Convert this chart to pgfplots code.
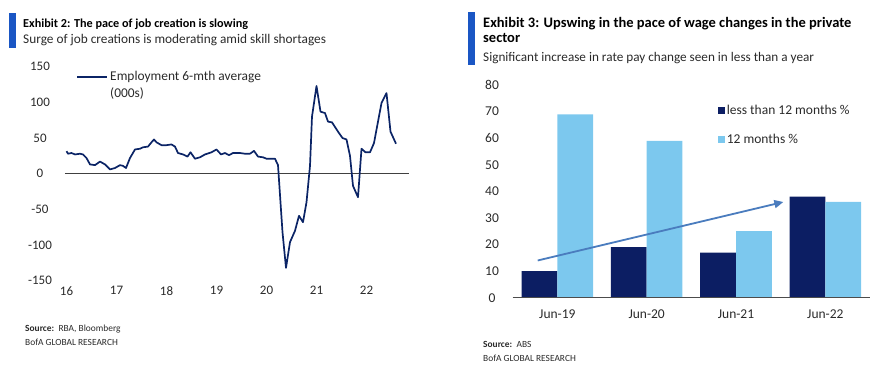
\documentclass[border=0pt]{standalone}
\usepackage{pgfplots}
\pgfplotsset{compat=1.18}
\usepackage{fontspec}
\setmainfont{Carlito}
\usetikzlibrary{arrows.meta}
\definecolor{navy}{HTML}{0B2466}
\definecolor{darkbar}{HTML}{0C1E63}
\definecolor{lightbar}{HTML}{7CC8EE}
\definecolor{titlebar}{HTML}{1A56C4}
\definecolor{arrowblue}{HTML}{4A7CBE}
\definecolor{txt}{HTML}{2A2A2A}
\begin{document}
\begin{tikzpicture}
\useasboundingbox (0pt,0pt) rectangle (875pt,-377pt);
% ---- left titles
\fill[titlebar] (9pt,-12.7pt) rectangle (16pt,-47.7pt);
\node[anchor=base west, inner sep=0pt, font=\fontsize{12.2}{14}\selectfont\bfseries] at (23pt,-27.5pt) {Exhibit 2: The pace of job creation is slowing};
\node[anchor=base west, inner sep=0pt, font=\fontsize{13.3}{15}\selectfont, text=txt] at (23pt,-43.5pt) {Surge of job creations is moderating amid skill shortages};
\node[anchor=base west, inner sep=0pt, font=\fontsize{9.4}{11}\selectfont, text=txt] at (25pt,-331.5pt) {\textbf{Source:}\, RBA, Bloomberg};
\node[anchor=base west, inner sep=0pt, font=\fontsize{9.4}{11}\selectfont, text=txt] at (25pt,-345.5pt) {BofA GLOBAL RESEARCH};
% ---- right titles
\fill[titlebar] (468pt,-12pt) rectangle (475pt,-65pt);
\node[anchor=base west, inner sep=0pt, font=\fontsize{14.5}{16}\selectfont\bfseries] at (483pt,-28pt) {Exhibit 3: Upswing in the pace of wage changes in the private};
\node[anchor=base west, inner sep=0pt, font=\fontsize{14.5}{16}\selectfont\bfseries] at (483pt,-43pt) {sector};
\node[anchor=base west, inner sep=0pt, font=\fontsize{13.2}{15}\selectfont, text=txt] at (483pt,-61.5pt) {Significant increase in rate pay change seen in less than a year};
\node[anchor=base west, inner sep=0pt, font=\fontsize{9.4}{11}\selectfont, text=txt] at (483pt,-347pt) {\textbf{Source:}\, ABS};
\node[anchor=base west, inner sep=0pt, font=\fontsize{9.4}{11}\selectfont, text=txt] at (483pt,-361pt) {BofA GLOBAL RESEARCH};

% ---- left axis
\begin{axis}[
  at={(65pt,-280.7pt)}, anchor=south west,
  scale only axis, width=344pt, height=214pt,
  xmin=15.97, xmax=22.85, ymin=-150, ymax=150,
  xtick={16,17,18,19,20,21,22},
  xticklabels={16,17,18,19,20,21,22},
  ytick={-150,-100,-50,0,50,100,150},
  axis line style={draw=none}, tick style={draw=none},
  /pgf/number format/assume math mode=true,
  ticklabel style={font=\fontsize{13}{15}\selectfont, text=txt},
  yticklabel style={anchor=center, xshift=-25pt},
  xticklabel style={anchor=center, yshift=-10pt},
  clip=false,
  legend style={at={(0.03,0.997)}, anchor=north west, draw=none, fill=none,
    font=\fontsize{13.4}{17}\selectfont, cells={align=left}, text=txt,
    inner xsep=1pt},
  legend cell align=left,
  legend image code/.code={\draw[#1] (0pt,8.5pt) -- (30pt,8.5pt);},
]
\addplot[black!75, line width=0.8pt, forget plot] coordinates {(15.97,0) (22.85,0)};
\addplot[navy, line width=1.7pt, line join=round] coordinates {
(16.0,31.6)(16.03,28)(16.10,29)(16.17,27)(16.27,28)(16.33,27)(16.40,22)(16.47,13)(16.57,12)(16.67,17)(16.77,13)(16.87,6)(16.97,8)(17.07,12)(17.13,11)(17.19,8)(17.27,22)(17.37,34)(17.47,35)(17.53,37)(17.63,38)(17.70,44)(17.75,48)(17.80,44)(17.90,40)(18.00,40)(18.10,41)(18.17,38)(18.23,29)(18.33,27)(18.42,24)(18.48,30)(18.57,21)(18.67,23)(18.77,27)(18.90,30)(19.00,34)(19.09,27)(19.17,29)(19.25,26)(19.33,29)(19.47,29)(19.57,28)(19.67,28)(19.75,32)(19.83,24)(19.93,23)(20.00,21)(20.17,21)(20.23,12)(20.32,-82)(20.39,-132)(20.47,-96)(20.57,-80)(20.65,-59)(20.73,-68)(20.80,-40)(20.87,11)(20.91,80)(21.00,123)(21.08,87)(21.17,85)(21.23,73)(21.31,72)(21.43,59)(21.52,50)(21.60,48)(21.67,25)(21.73,-17)(21.83,-33)(21.90,35)(21.98,30)(22.07,30)(22.15,43)(22.23,73)(22.30,99)(22.40,113)(22.48,59)(22.59,42)};
\addlegendentry{Employment 6-mth average\\(000s)}
\end{axis}

% ---- right axis
\begin{axis}[
  at={(512.7pt,-297.7pt)}, anchor=south west,
  scale only axis, width=357.3pt, height=212.7pt,
  xmin=-0.5, xmax=3.5, ymin=0, ymax=80,
  ybar, bar width=35.8pt,
  xtick={0,1,2,3}, xticklabels={Jun-19,Jun-20,Jun-21,Jun-22},
  ytick={0,10,20,30,40,50,60,70,80},
  axis line style={draw=none}, tick style={draw=none},
  /pgf/number format/assume math mode=true,
  ticklabel style={font=\fontsize{13.5}{15}\selectfont, text=txt},
  yticklabel style={anchor=center, xshift=-20.7pt},
  xticklabel style={anchor=center, yshift=-12pt},
  clip=false,
  after end axis/.code={\draw[black!70, line width=0.8pt] (rel axis cs:0,0) -- (rel axis cs:1,0);},
  legend style={at={(0.565,0.925)}, anchor=north west, draw=none, fill=none,
    font=\fontsize{13.5}{15}\selectfont, text=txt, row sep=14pt},
  legend cell align=left,
]
\addplot[fill=darkbar, draw=none, bar shift=-17.9pt,
  legend image code/.code={\fill[darkbar] (0pt,-3.5pt) rectangle (7pt,3.5pt);}]
  coordinates {(0,10) (1,19) (2,17) (3,38)};
\addlegendentry{less than 12 months \%}
\addplot[fill=lightbar, draw=none, bar shift=17.9pt,
  legend image code/.code={\fill[lightbar] (0pt,-3.5pt) rectangle (7pt,3.5pt);}]
  coordinates {(0,69) (1,59) (2,25) (3,36)};
\addlegendentry{12 months \%}
\addplot[sharp plot, arrowblue, line width=1.8pt, -{Triangle[length=9pt,width=8pt]}, forget plot]
  coordinates {(-0.22,14) (2.53,36)};
\end{axis}
\end{tikzpicture}
\end{document}
